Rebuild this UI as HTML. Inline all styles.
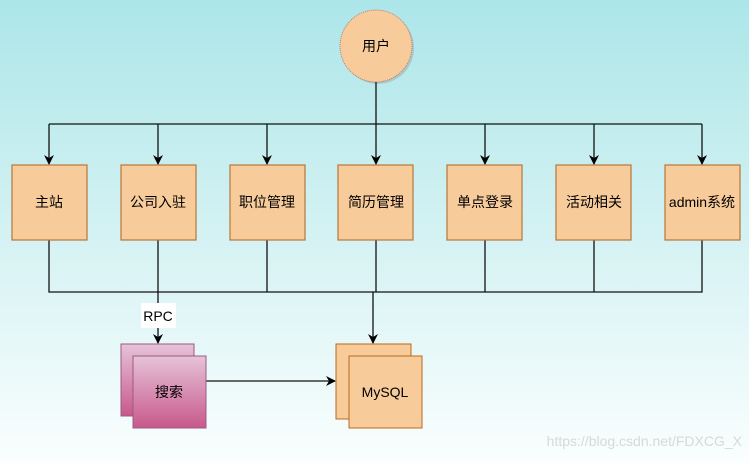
<!DOCTYPE html>
<html><head><meta charset="utf-8"><style>
body{margin:0;width:749px;height:463px;overflow:hidden;background:linear-gradient(#ace6e9,#d8f3f4 55%,#fafefe);font-family:"Liberation Sans","Noto Sans CJK SC",sans-serif}
</style></head><body>
<svg width="749" height="463" xmlns="http://www.w3.org/2000/svg" style="position:absolute;left:0;top:0">
<defs>
<marker id="a" markerWidth="10" markerHeight="10" refX="9" refY="5" orient="auto" markerUnits="userSpaceOnUse"><path d="M0,0 L10,5 L0,10 L3,5z" fill="#000"/></marker>
<linearGradient id="p" x1="0" y1="0" x2="0" y2="1"><stop offset="0" stop-color="#e6c3d9"/><stop offset="1" stop-color="#c8588b"/></linearGradient>
</defs>
<ellipse cx="378" cy="48" rx="36" ry="36" fill="#999" opacity=".4"/>
<ellipse cx="376" cy="46" rx="36" ry="36" fill="#f8cc9a" stroke="#b77" stroke-dasharray="1,1"/>
<text x="376" y="51" font-size="14" text-anchor="middle">用户</text>
<g stroke="#111" stroke-width="1.3" fill="none">
<line x1="376" y1="82" x2="376" y2="124"/>
<line x1="49" y1="124" x2="702" y2="124"/>
<line x1="49" y1="124" x2="49" y2="164" marker-end="url(#a)"/>
<line x1="158" y1="124" x2="158" y2="164" marker-end="url(#a)"/>
<line x1="267" y1="124" x2="267" y2="164" marker-end="url(#a)"/>
<line x1="376" y1="124" x2="376" y2="164" marker-end="url(#a)"/>
<line x1="485" y1="124" x2="485" y2="164" marker-end="url(#a)"/>
<line x1="594" y1="124" x2="594" y2="164" marker-end="url(#a)"/>
<line x1="702" y1="124" x2="702" y2="164" marker-end="url(#a)"/>
<path d="M49,240V292H702V240 M267,240V292 M376,240V292 M485,240V292 M594,240V292"/>
<line x1="158" y1="240" x2="158" y2="343" marker-end="url(#a)"/>
<line x1="373" y1="292" x2="373" y2="343" marker-end="url(#a)"/>
<line x1="206" y1="381" x2="335" y2="381" marker-end="url(#a)"/>
</g>
<g fill="#f8cc9a" stroke="#b5773a" stroke-width="1.2">
<rect x="12" y="165" width="75" height="75"/>
<rect x="121" y="165" width="75" height="75"/>
<rect x="230" y="165" width="75" height="75"/>
<rect x="338" y="165" width="75" height="75"/>
<rect x="447" y="165" width="75" height="75"/>
<rect x="556" y="165" width="75" height="75"/>
<rect x="665" y="165" width="75" height="75"/>
</g>
<g font-size="14" text-anchor="middle">
<text x="49" y="207">主站</text><text x="158" y="207">公司入驻</text><text x="267" y="207">职位管理</text><text x="376" y="207">简历管理</text><text x="485" y="207">单点登录</text><text x="594" y="207">活动相关</text><text x="702" y="207">admin系统</text>
</g>
<rect x="141" y="303" width="35" height="25" fill="#fff"/>
<text x="158" y="321" font-size="14" text-anchor="middle">RPC</text>
<rect x="121" y="344" width="73" height="72" fill="url(#p)" stroke="#9c5a82"/>
<rect x="133" y="356" width="73" height="72" fill="url(#p)" stroke="#9c5a82"/>
<text x="169" y="397" font-size="14" text-anchor="middle">搜索</text>
<rect x="336" y="344" width="75" height="75" fill="#f8cc9a" stroke="#c0671a"/>
<rect x="349" y="356" width="73" height="72" fill="#f8cc9a" stroke="#c0671a"/>
<text x="385" y="397" font-size="14" text-anchor="middle">MySQL</text>
<text x="742" y="446" font-size="14" fill="#d4d9d9" text-anchor="end">https://blog.csdn.net/FDXCG_X</text>
</svg>
</body></html>
